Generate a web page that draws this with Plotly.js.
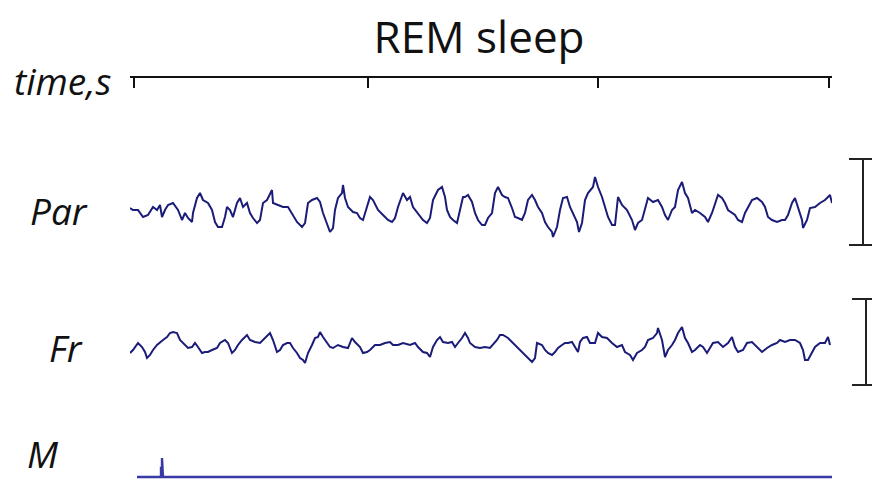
<!DOCTYPE html>
<html>
<head>
<meta charset="utf-8">
<script src="https://cdn.plot.ly/plotly-3.0.1.min.js"></script>
<style>html,body{margin:0;padding:0;background:#fff;}#chart{width:872px;height:480px;}</style>
</head>
<body>
<div id="chart"></div>
<script>
// ---- data (sample index along time, amplitude in arbitrary units) ----
const parT = [0,3,8,13,18,23,27,30,32,35,38,43,48,52,55,58,62,63,67,70,73,78,82,85,88,92,95,97,100,103,107,110,113,117,120,123,127,130,133,137,142,143,148,153,158,163,167,172,175,178,182,187,190,193,197,200,203,205,208,212,213,215,218,223,227,230,233,237,240,243,248,253,258,262,265,268,273,277,280,283,288,293,297,300,303,308,312,315,317,320,323,327,330,333,335,338,342,345,348,352,355,358,362,365,368,372,375,378,382,385,388,392,395,398,402,405,408,412,415,418,422,423,427,430,433,437,440,443,447,449,452,455,458,463,465,468,472,475,478,482,485,488,492,497,502,505,508,512,515,518,523,528,532,535,538,542,545,548,552,555,558,562,565,570,575,578,582,585,588,592,595,598,602,605,608,612,615,618,622,627,632,635,638,642,647,652,655,658,662,665,668,672,673,677,680,685,690,695,700,702];
const parV = [2,0,0,-7,-5,3,0,5,-7,0,5,7,0,-10,-3,-8,-12,-3,12,17,10,7,0,-12,-17,-17,-7,3,0,-7,7,12,3,7,-3,-8,-13,-10,7,10,20,7,5,3,3,-6,-12,-17,-13,7,10,12,8,-3,-13,-22,-18,0,12,17,25,12,3,-2,-3,-8,-10,3,13,10,0,-5,-10,-12,-8,3,17,10,13,3,-3,-10,-13,-8,10,20,23,13,0,-7,-10,-13,0,13,13,15,8,-3,-10,-15,-15,-8,-3,17,23,15,13,12,2,-7,-8,-10,-3,10,15,10,3,-3,-12,-17,-22,-27,-17,0,12,13,3,-3,-12,-22,-13,10,17,23,33,23,13,3,-7,-15,-15,13,5,0,-10,-20,-13,-10,0,12,8,10,3,-5,-10,0,3,20,28,17,12,-3,0,-3,-7,-12,-3,7,15,12,7,0,-3,-5,-10,-12,-3,3,10,12,8,3,-7,-10,-12,-10,-10,-5,7,12,3,-10,-18,-10,2,3,7,10,15,7];

const frT = [0,3,8,12,15,17,20,23,27,30,33,37,40,43,47,50,53,58,62,65,68,72,75,78,82,87,90,95,98,102,105,108,112,117,120,125,130,135,140,143,147,150,153,157,160,163,167,170,173,175,178,182,185,188,190,193,197,200,203,208,213,218,222,225,230,233,237,240,245,250,255,260,263,268,273,280,285,288,293,297,300,303,307,310,313,318,322,325,328,332,335,338,340,345,350,355,360,363,367,370,373,378,383,388,393,398,402,405,407,412,415,418,422,425,428,432,435,438,442,445,448,450,453,457,460,465,468,472,477,482,487,492,495,500,503,507,512,515,518,523,527,528,532,535,538,542,545,548,552,555,558,562,565,570,573,577,580,583,588,593,598,602,605,608,613,617,622,627,632,637,642,647,650,655,660,665,670,673,675,678,682,685,690,695,698,700];
const frV = [-8,-5,2,-2,-7,-13,-10,-5,0,3,5,8,12,13,12,5,2,-3,-2,2,-2,-8,-7,-7,-5,-3,2,5,2,-8,-5,0,5,10,5,3,2,7,12,5,-7,-5,0,2,2,-3,-8,-13,-15,-18,-8,0,7,8,13,8,2,-2,-3,0,-2,-3,7,3,-2,-8,-7,-5,0,0,2,3,0,0,2,0,2,-2,-7,-8,-12,-2,5,8,3,2,3,-2,2,7,12,7,2,-2,-3,-2,-3,0,5,10,10,7,2,-3,-8,-13,-17,-13,2,0,-5,-8,-10,-7,-3,0,2,2,3,-2,-7,3,7,8,2,2,12,8,7,2,-2,0,-7,-10,-15,-8,-5,-2,5,7,12,17,5,-12,-5,0,5,12,18,7,2,-7,-5,0,-2,-8,-3,2,3,-2,2,8,-2,-7,-5,2,3,-2,-7,-3,0,2,5,3,5,5,2,-5,-15,-15,-8,-2,2,2,8,0];

const mT = [7,31,31,32,32,33,702];
const mV = [0,0,9,9,19,0,0];

const timeTicks = [4,238,468,699];          // 1-s marks on the time axis
const parBar = [-35,51];                     // calibration bar, Par
const frBar  = [-40,46];                     // calibration bar, Fr
const labels = ['time,s','Par','Fr','M'];

const traceColor = '#1b1b78';
const traces = [
  {x: parT, y: parV, xaxis:'x', yaxis:'y',  mode:'lines', line:{color:traceColor, width:2}, hoverinfo:'skip'},
  {x: frT,  y: frV,  xaxis:'x', yaxis:'y2', mode:'lines', line:{color:traceColor, width:2}, hoverinfo:'skip'},
  {x: mT,   y: mV,   xaxis:'x', yaxis:'y3', mode:'lines', line:{color:'#3a3aa6', width:2.4}, hoverinfo:'skip'}
];

const W = 872, H = 480;
const py = p => 1 - p / H;   // pixel row -> paper
const px = p => p / W;

const labFont = {family:'Open Sans, Lato, sans-serif', size:37, color:'#111', style:'italic'};
const labPos = [[62,81],[59,210],[66,347],[43,null]];
const annotations = labels.map((t,i)=>({
  text: t, x: px(labPos[i][0]), y: labPos[i][1] === null ? 0 : py(labPos[i][1]), xref:'paper', yref:'paper',
  xanchor:'center', yanchor: labPos[i][1] === null ? 'bottom' : 'middle', showarrow:false, font: labFont,
  borderpad: 0
}));

const barLine = {color:'#222', width:2};
const shapes = [
  {type:'line', xref:'paper', yref:'y',  x0:px(863), x1:px(863), y0:parBar[0], y1:parBar[1], line:barLine},
  {type:'line', xref:'paper', yref:'y',  x0:px(849), x1:px(872), y0:parBar[0], y1:parBar[0], line:barLine},
  {type:'line', xref:'paper', yref:'y',  x0:px(849), x1:px(872), y0:parBar[1], y1:parBar[1], line:barLine},
  {type:'line', xref:'paper', yref:'y2', x0:px(866), x1:px(866), y0:frBar[0], y1:frBar[1], line:barLine},
  {type:'line', xref:'paper', yref:'y2', x0:px(852), x1:px(872), y0:frBar[0], y1:frBar[0], line:barLine},
  {type:'line', xref:'paper', yref:'y2', x0:px(852), x1:px(872), y0:frBar[1], y1:frBar[1], line:barLine}
];

const layout = {
  width: W, height: H,
  margin: {l:0, r:0, t:0, b:0},
  paper_bgcolor:'#ffffff', plot_bgcolor:'#ffffff',
  showlegend:false,
  title: {text:'REM sleep', x: px(479), y: py(38), xref:'paper', yref:'paper',
          xanchor:'center', yanchor:'middle',
          font:{family:'Open Sans, Lato, sans-serif', size:44, color:'#111'}},
  xaxis: {domain:[px(130), px(832)], range:[0,702], side:'top', anchor:'free', position: py(76),
          showline:true, linecolor:'#111', linewidth:1.5, ticks:'inside', ticklen:10, tickwidth:1.5,
          tickcolor:'#111', tickmode:'array', tickvals: timeTicks, showticklabels:false,
          showgrid:false, zeroline:false, fixedrange:true},
  yaxis:  {domain:[py(270), py(150)], range:[-60,60], visible:false, fixedrange:true},
  yaxis2: {domain:[py(405), py(285)], range:[-60,60], visible:false, fixedrange:true},
  yaxis3: {domain:[0, py(420)], range:[-3,57], visible:false, fixedrange:true},
  annotations, shapes
};

Plotly.newPlot('chart', traces, layout, {staticPlot:true, displayModeBar:false});
</script>
</body>
</html>
